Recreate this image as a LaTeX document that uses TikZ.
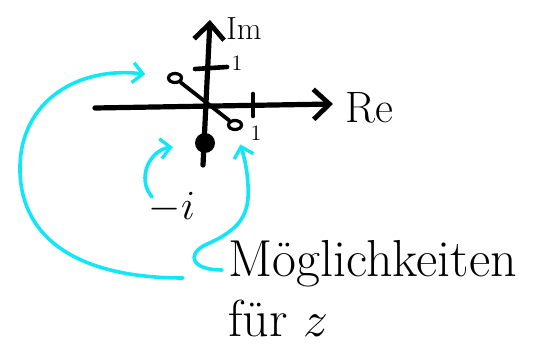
\documentclass[tikz,border=0pt]{standalone}
\usepackage{tikz}
\usetikzlibrary{arrows.meta, positioning, calc, shapes.geometric}
\definecolor{tuerkis}{RGB}{20,230,250}
\tikzset{
    achse/.style={line width=2.6pt, line cap=round, -{Straight Barb[length=8pt,width=15pt,line width=2.4pt]}},
    strich/.style={line width=2.3pt, line cap=round},
    kreis/.style={ellipse, draw, line width=1.6pt, inner sep=0pt, minimum width=6.5pt, minimum height=4.5pt},
    vollpunkt/.style={circle, fill, inner sep=0pt, minimum size=10pt},
    pfeil/.style={line width=1.8pt, draw=tuerkis, line cap=round, -{Straight Barb[length=5pt,width=10pt,line width=1.7pt]}},
    schrift/.style={font=\fontsize{26}{30}\selectfont, align=left, inner sep=0pt},
    label_klein/.style={font=\fontsize{11}{12}\selectfont, inner sep=0pt},
    label_gross/.style={font=\fontsize{22}{24}\selectfont, inner sep=0pt}
}

\begin{document}
\begin{tikzpicture}[x=0.5pt, y=-0.5pt]
        \useasboundingbox (0,0) rectangle (544,347);

        % Achsen
        \coordinate (re_start) at (95,108);
        \coordinate (re_ende) at (333,104);
        \coordinate (im_start) at (203,165);
        \coordinate (im_ende) at (210,20);
        \draw [achse] (re_start) -- (re_ende);
        \draw [achse] (im_start) -- (im_ende);
        \node (re) [label_gross] at (369,108) {Re};
        \node (im) [label_klein, font=\fontsize{16}{18}\selectfont] at (244,29) {Im};

        % Einheiten
        \coordinate (im_eins_a) at (195,69);
        \coordinate (im_eins_b) at (227,67);
        \draw [strich] (im_eins_a) -- (im_eins_b);
        \node (im_eins) [label_klein] at (237,63) {1};
        \coordinate (re_eins_a) at (253,94);
        \coordinate (re_eins_b) at (253,116);
        \draw [strich] (re_eins_a) -- (re_eins_b);

        % Lösungen
        \node (oben) [kreis] at (175,78) {};
        \node (unten) [kreis] at (235,125) {};
        \draw [strich, line width=1.9pt] (oben) -- (unten);
        \node (unten_eins) [label_klein] at (256,133) {1};
        \node (punkt) [vollpunkt] at (205,143) {};

        % Beschriftung
        \node (minusi) [label_gross] at (172,208) {$-i$};
        \node (text) [schrift, anchor=north west] at (228,240) {Möglichkeiten\\für $z$};

        % Pfeile
        \coordinate (start_gross) at (183,278);
        \coordinate (start_haken) at (222,270);
        \coordinate (start_klein) at (152,197);
        \draw [pfeil, shorten >=11pt] (start_gross) .. controls (80,278) and (22,240) .. (20,172) .. controls (18,100) and (80,66) .. (oben);
        \draw [pfeil, shorten >=7pt] (start_haken) .. controls (192,270) and (186,255) .. (205,245) .. controls (240,230) and (250,215) .. (248,185) .. controls (247,165) and (242,150) .. (unten);
        \draw [pfeil, shorten >=11pt] (start_klein) .. controls (136,178) and (150,150) .. (punkt);

    \end{tikzpicture}
\end{document}
